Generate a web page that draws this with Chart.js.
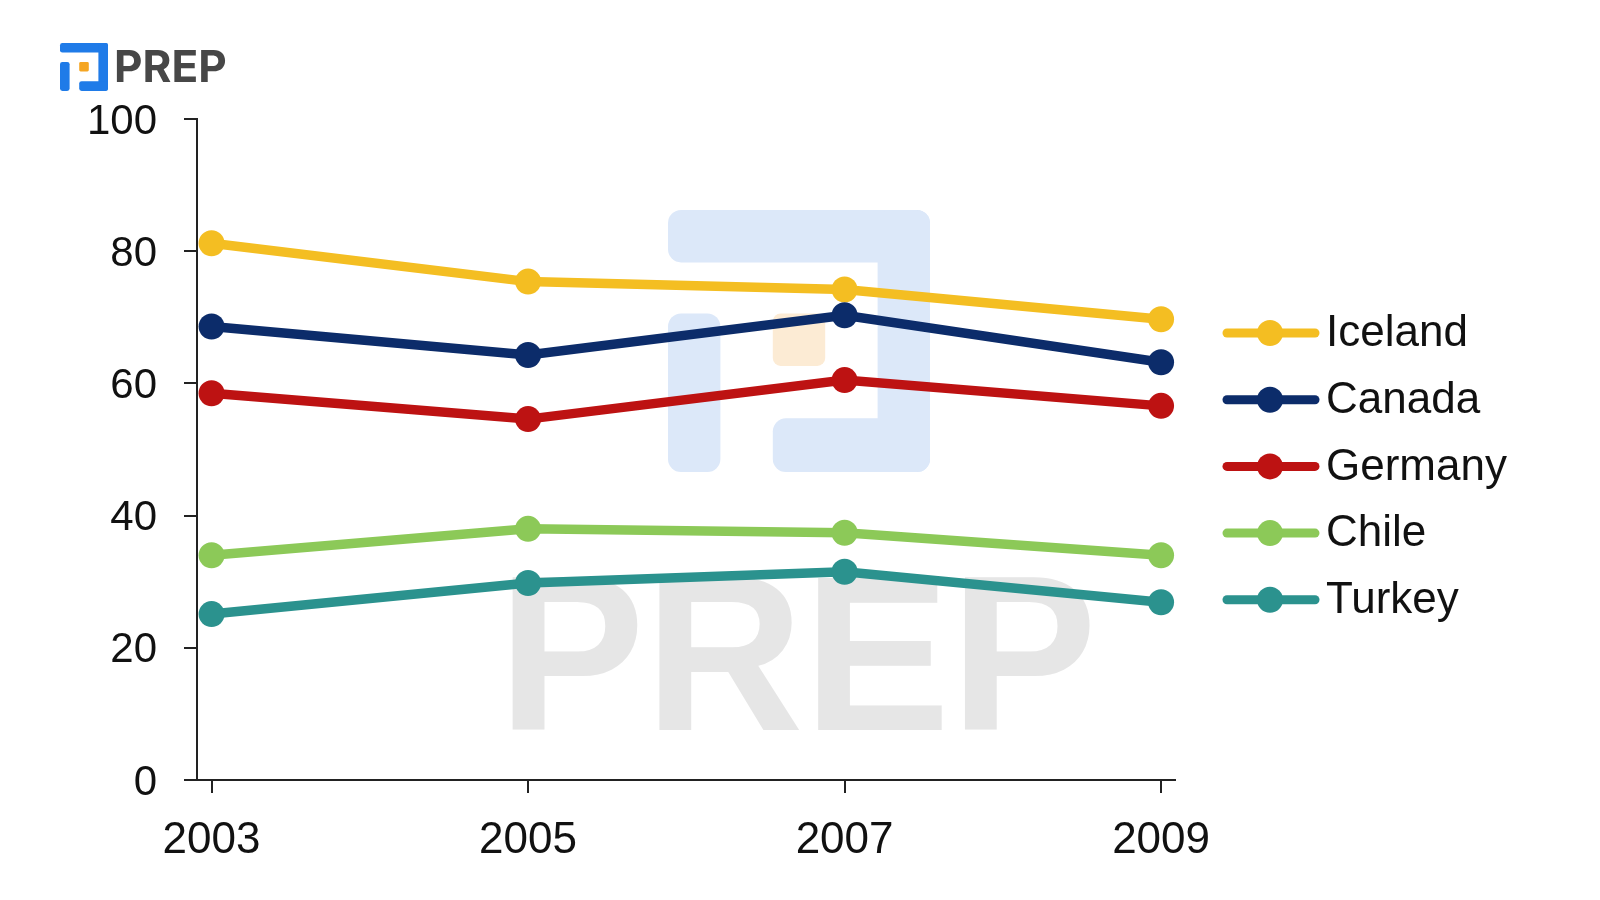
<!DOCTYPE html>
<html>
<head>
<meta charset="utf-8">
<title>Line chart</title>
<script src="https://cdn.jsdelivr.net/npm/chart.js@4.4.0/dist/chart.umd.min.js"></script>
<style>
  html, body { margin: 0; padding: 0; background: #fff; }
  #chart { display: block; }
</style>
</head>
<body>
<canvas id="chart" width="1600" height="900"></canvas>
<script>
//.. data
const years = [2003, 2005, 2007, 2009];
const countries = ['Iceland', 'Canada', 'Germany', 'Chile', 'Turkey'];
const iceland = [81.2, 75.4, 74.2, 69.7];
const canada = [68.6, 64.3, 70.3, 63.2];
const germany = [58.5, 54.6, 60.5, 56.6];
const chile = [34.0, 38.0, 37.4, 34.0];
const turkey = [25.1, 29.8, 31.5, 26.9];
const yTicks = [0, 20, 40, 60, 80, 100];

const seriesValues = [iceland, canada, germany, chile, turkey];
const colors = ['#f4be22', '#0c2c6a', '#bd1212', '#8cc958', '#2b928e'];
const FONT = '"Liberation Sans", Arial, sans-serif';

//.. PREP icon: outer frame with a notch on the left, small square inside
function drawIcon(ctx, x, y, s, blue, orange) {
    const parts = [
        [0, 0, 1, 0.2],
        [0.8, 0, 0.2, 1],
        [0, 0.395, 0.2, 0.605],
        [0.4, 0.795, 0.6, 0.205]
    ];
    ctx.fillStyle = blue;
    parts.forEach(function (p) {
        ctx.beginPath();
        ctx.roundRect(x + p[0] * s, y + p[1] * s, p[2] * s, p[3] * s, s * 0.05);
        ctx.fill();
    });
    ctx.fillStyle = orange;
    ctx.beginPath();
    ctx.roundRect(x + 0.4 * s, y + 0.395 * s, 0.2 * s, 0.2 * s, s * 0.03);
    ctx.fill();
}

const brandPlugin = {
    id: 'brand',
    beforeDraw: function (chart) {
        const ctx = chart.ctx;
        ctx.save();
        //.. faint watermark behind the lines
        drawIcon(ctx, 668, 210, 262, '#dce8f9', '#fcebd4');
        ctx.fillStyle = '#e6e6e6';
        ctx.font = 'bold 220px ' + FONT;
        ctx.textBaseline = 'alphabetic';
        ctx.textAlign = 'left';
        ctx.fillText('PREP', 498, 730);
        //.. logo top left
        drawIcon(ctx, 60, 43, 48, '#1f7be8', '#f5a623');
        ctx.fillStyle = '#474747';
        ctx.font = 'bold 44px Inter, ' + FONT;
        ctx.fillText('PREP', 114, 82);
        ctx.restore();
    }
};

//.. legend on the right: line with a dot, then the name
const legendPlugin = {
    id: 'sideLegend',
    afterDraw: function (chart) {
        const ctx = chart.ctx;
        ctx.save();
        chart.data.datasets.forEach(function (ds, i) {
            const y = 333 + i * 66.7;
            ctx.strokeStyle = ds.borderColor;
            ctx.lineWidth = 9;
            ctx.lineCap = 'round';
            ctx.beginPath();
            ctx.moveTo(1227, y);
            ctx.lineTo(1315, y);
            ctx.stroke();
            ctx.fillStyle = ds.borderColor;
            ctx.beginPath();
            ctx.arc(1270, y, 13, 0, Math.PI * 2);
            ctx.fill();
            ctx.fillStyle = '#111';
            ctx.font = '44px ' + FONT;
            ctx.textAlign = 'left';
            ctx.textBaseline = 'middle';
            ctx.fillText(ds.label, 1326, y + 1);
        });
        ctx.restore();
    }
};

const datasets = countries.map(function (name, i) {
    return {
        label: name,
        data: years.map(function (yr, j) { return {x: yr, y: seriesValues[i][j]}; }),
        borderColor: colors[i],
        backgroundColor: colors[i],
        pointBackgroundColor: colors[i],
        pointBorderWidth: 0,
        pointRadius: 13,
        borderWidth: 9.5,
        tension: 0,
        clip: false,
        order: countries.length - i
    };
});

const ctx = document.getElementById('chart').getContext('2d');
new Chart(ctx, {
    type: 'line',
    data: {datasets: datasets},
    options: {
        responsive: false,
        animation: false,
        layout: {padding: {top: 119, right: 425, left: 0, bottom: 0}},
        plugins: {legend: {display: false}, tooltip: {enabled: false}},
        scales: {
            x: {
                type: 'linear',
                min: 2002.908,
                max: 2009.088,
                afterBuildTicks: function (scale) {
                    scale.ticks = years.map(function (v) { return {value: v}; });
                },
                afterFit: function (scale) { scale.height = 120; },
                border: {display: true, color: '#222', width: 2},
                grid: {drawOnChartArea: false, drawTicks: true, tickLength: 13, color: '#222', lineWidth: 2},
                ticks: {
                    color: '#111',
                    font: {family: FONT, size: 44},
                    padding: 21,
                    maxRotation: 0,
                    callback: function (v) { return String(v); }
                }
            },
            y: {
                min: 0,
                max: 100,
                afterBuildTicks: function (scale) {
                    scale.ticks = yTicks.map(function (v) { return {value: v}; });
                },
                afterFit: function (scale) { scale.width = 197; },
                border: {display: true, color: '#222', width: 2},
                grid: {drawOnChartArea: false, drawTicks: true, tickLength: 13, color: '#222', lineWidth: 2},
                ticks: {
                    color: '#111',
                    font: {family: FONT, size: 42},
                    padding: 27,
                    labelOffset: 3
                }
            }
        }
    },
    plugins: [brandPlugin, legendPlugin]
});
</script>
</body>
</html>
